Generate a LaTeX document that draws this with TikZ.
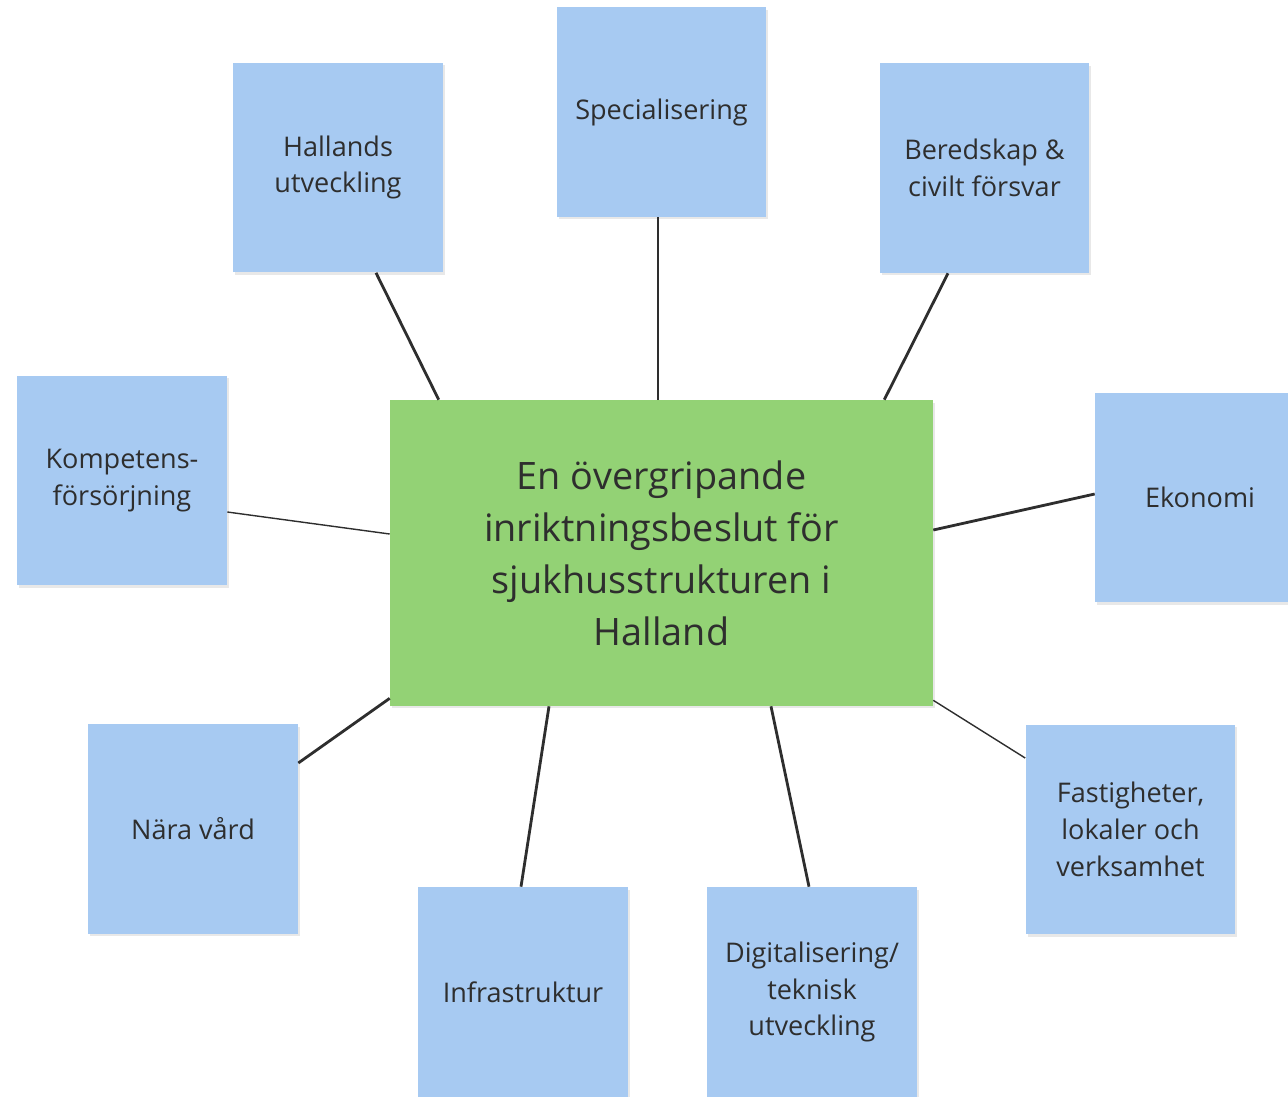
\documentclass[tikz,border=0pt]{standalone}
\usepackage{fontspec}
\setmainfont{Open Sans}
\usepackage{xcolor}
\usepackage{tikz}
\usetikzlibrary{calc,shadows}

\definecolor{noteblue}{HTML}{A7CAF2}
\definecolor{notegreen}{HTML}{93D275}
\definecolor{inkgray}{HTML}{2E2E2E}

\tikzset{
	note/.style={rectangle, fill=noteblue, text=inkgray, align=center,
		minimum width=4.2cm, minimum height=4.2cm, inner sep=0pt,
		font=\fontsize{15.4}{21}\selectfont,
		drop shadow={opacity=0.18, shadow xshift=0.04cm, shadow yshift=-0.05cm}},
	mainnote/.style={rectangle, fill=notegreen, text=inkgray, align=center,
		minimum width=10.86cm, minimum height=6.12cm, inner sep=0pt,
		font=\fontsize{21.5}{29.6}\selectfont,
		drop shadow={opacity=0.18, shadow xshift=0.04cm, shadow yshift=-0.05cm}},
	link/.style={draw=inkgray, line width=1.6pt},
	thinlink/.style={draw=inkgray, line width=0.8pt}
}

\begin{document}
\begin{tikzpicture}[x=0.02cm, y=-0.02cm]
			\useasboundingbox (0,0) rectangle (1288,1096);
			\clip (0,0) rectangle (1288,1096);

			\node[mainnote] (cent) at (661.5,553) {En övergripande\\inriktningsbeslut för\\sjukhusstrukturen i\\Halland};

			\node[note] (hall) at (338,167.5) {Hallands\\utveckling};
			\node[note] (spec) at (661.5,112) {Specialisering};
			\node[note] (bered) at (984.5,168) {Beredskap \&\\civilt försvar};
			\node[note] (komp) at (122,480.5) {Kompetens-\\försörjning};
			\node[note] (ekon) at (1200,497.5) {Ekonomi};
			\node[note] (nara) at (193,829) {Nära vård};
			\node[note] (infra) at (523,992) {Infrastruktur};
			\node[note] (digi) at (812,992) {Digitalisering/\\teknisk\\utveckling};
			\node[note] (fast) at (1130.5,829.5) {Fastigheter,\\lokaler och\\verksamhet};

			\draw[link] ($(hall.south)+(38,0)$) -- ($(cent.north west)+(49,0)$);
			\draw[link] ($(spec.south)+(-3.5,0)$) -- ($(cent.north)+(-3.5,0)$);
			\draw[link] ($(bered.south)+(-36.5,0)$) -- ($(cent.north east)+(-49,0)$);
			\draw[thinlink] ($(komp.east)+(0,31.5)$) -- ($(cent.west)+(0,-19)$);
			\draw[link] ($(ekon.west)+(0,-3.5)$) -- ($(cent.east)+(0,-23)$);
			\draw[link] ($(nara.east)+(0,-66)$) -- ($(cent.south west)+(0,-8)$);
			\draw[link] ($(infra.north)+(-2,0)$) -- ($(cent.south)+(-112.5,0)$);
			\draw[link] ($(digi.north)+(-3,0)$) -- ($(cent.south)+(109.5,0)$);
			\draw[thinlink] ($(fast.west)+(0,-71.5)$) -- ($(cent.south east)+(0,-6)$);
		\end{tikzpicture}
\end{document}
